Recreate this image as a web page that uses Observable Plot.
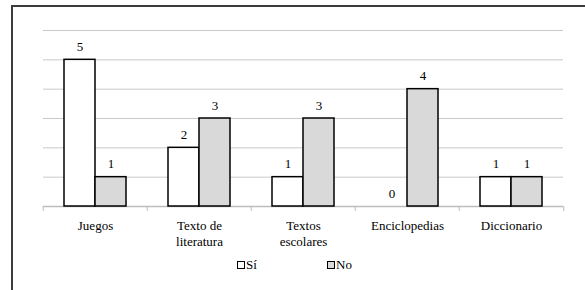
<!DOCTYPE html>
<html><head><meta charset="utf-8">
<script src="https://cdn.jsdelivr.net/npm/d3@7"></script>
<script src="https://cdn.jsdelivr.net/npm/@observablehq/plot@0.6"></script>
</head>
<body style="margin:0;padding:0;width:585px;height:290px;overflow:hidden;background:#fff;position:relative;font-family:'Liberation Serif'">
<div id="chart" style="position:absolute;left:0;top:0;"></div>
<div id="frame" style="position:absolute;left:11px;top:5px;width:620px;height:320px;border-left:2px solid #3c3c3c;border-top:2px solid #3c3c3c;box-sizing:border-box;"></div>
<div id="legend"></div>
<script>
const categories = ["Juegos","Texto de\nliteratura","Textos\nescolares","Enciclopedias","Diccionario"];
const series = ["Sí","No"];
const siValues = [5,2,1,0,1];
const noValues = [1,3,3,4,1];
const yTicks = [1,2,3,4,5,6];
const colors = ["#ffffff","#d9d9d9"];

const data = [];
categories.forEach((c,i)=>{
  data.push({cat:c, s:series[0], v:siValues[i]});
  data.push({cat:c, s:series[1], v:noValues[i]});
});

const half = (585-41-21)/categories.length/2;
const serif = "'Liberation Serif', 'Times New Roman', serif";

const chart = Plot.plot({
  width:585, height:290,
  marginLeft:41, marginRight:21, marginTop:30, marginBottom:84,
  style:{fontFamily:serif, background:"none", color:"#000"},
  fx:{domain:categories, padding:0, label:null, axis:null},
  x:{domain:series, paddingInner:0, paddingOuter:0.667, axis:null},
  y:{domain:[0,6], axis:null},
  color:{domain:series, range:colors},
  marks:[
    Plot.ruleY(yTicks, {stroke:"#c9c9c9", strokeWidth:1}),
    Plot.ruleY([0], {stroke:"#bdbdbd", strokeWidth:1.5}),
    Plot.barY(data, {fx:"cat", x:"s", y:"v", fill:"s", stroke:"#000", strokeWidth:1.5}),
    Plot.text(data, {fx:"cat", x:"s", y:"v", text:"v", dy:-13, fontSize:13, fill:"#000"}),
    Plot.axisFx({anchor:"bottom", tickSize:0, tickPadding:11, fontSize:13, lineHeight:1.3, label:null, fill:"#000"}),
    Plot.axisFx({anchor:"bottom", ticks:categories, tickFormat:()=>"", tickSize:5, dx:-half, stroke:"#bdbdbd", label:null}),
    Plot.axisFx({anchor:"bottom", ticks:[categories[categories.length-1]], tickFormat:()=>"", tickSize:5, dx:half, stroke:"#bdbdbd", label:null})
  ]
});
chart.style.fontFamily = serif;
chart.querySelectorAll("text, tspan, g").forEach(t => t.style.fontFamily = serif);
document.getElementById("chart").appendChild(chart);

const legend = document.getElementById("legend");
const lx = [237, 327];
series.forEach((s,i)=>{
  const d = document.createElement("div");
  d.style.cssText = "position:absolute;top:257px;font-size:13px;color:#000;display:flex;align-items:center;font-family:'Liberation Serif',serif;left:"+lx[i]+"px";
  const sw = document.createElement("span");
  sw.style.cssText = "display:inline-block;width:6px;height:6px;border:1.5px solid #000;margin-right:1px;background:"+colors[i];
  d.appendChild(sw);
  d.appendChild(document.createTextNode(s));
  legend.appendChild(d);
});
</script>
</body></html>
